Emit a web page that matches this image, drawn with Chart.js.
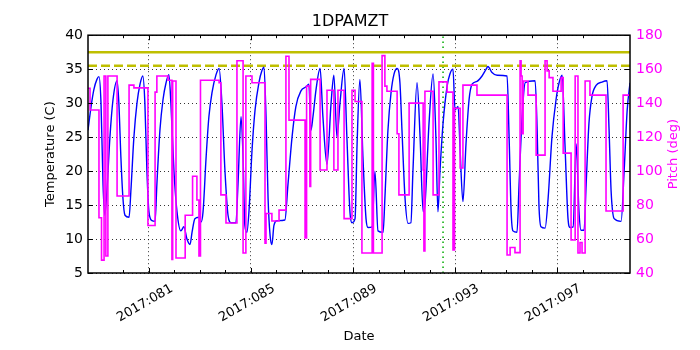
<!DOCTYPE html>
<html>
<head>
<meta charset="utf-8">
<script src="https://cdn.jsdelivr.net/npm/chart.js@4"></script>
<style>
  html, body { margin: 0; padding: 0; background: #fff; }
</style>
</head>
<body>
<canvas id="chart" width="700" height="350"></canvas>
<script>
// x axis: day of year 2017
const majorDays = [81, 85, 89, 93, 97];
const dayMin = 78.61;
const dayMax = 99.86;

// 1DPAMZT temperature (C)
const tempDays = [
  78.61, 78.73, 78.84, 78.96, 79.04, 79.12, 79.20, 79.27, 79.35, 79.47,
  79.59, 79.75, 79.82, 79.90, 79.98, 80.06, 80.22, 80.29, 80.41, 80.53,
  80.65, 80.76, 80.84, 80.92, 81.00, 81.12, 81.24, 81.31, 81.43, 81.55,
  81.67, 81.78, 81.86, 81.98, 82.10, 82.25, 82.37, 82.49, 82.61, 82.69,
  82.80, 82.96, 83.04, 83.12, 83.24, 83.35, 83.47, 83.63, 83.75, 83.86,
  83.98, 84.10, 84.22, 84.41, 84.49, 84.61, 84.69, 84.76, 84.84, 84.92,
  85.04, 85.16, 85.31, 85.43, 85.51, 85.59, 85.67, 85.75, 85.82, 85.90,
  86.02, 86.33, 86.45, 86.61, 86.76, 86.96, 87.16, 87.27, 87.35, 87.43,
  87.55, 87.71, 87.82, 87.98, 88.14, 88.25, 88.37, 88.49, 88.65, 88.76,
  88.88, 88.96, 89.08, 89.16, 89.27, 89.39, 89.51, 89.59, 89.75, 89.86,
  89.98, 90.18, 90.25, 90.37, 90.49, 90.61, 90.73, 90.84, 90.92, 91.04,
  91.16, 91.27, 91.35, 91.51, 91.63, 91.75, 91.82, 91.98, 92.14, 92.25,
  92.33, 92.41, 92.53, 92.69, 92.80, 92.92, 93.00, 93.12, 93.20, 93.31,
  93.43, 93.55, 93.67, 93.86, 94.06, 94.22, 94.29, 94.45, 94.65, 95.04,
  95.12, 95.20, 95.27, 95.43, 95.51, 95.63, 95.75, 96.14, 96.22, 96.29,
  96.37, 96.53, 96.65, 96.80, 96.96, 97.08, 97.20, 97.31, 97.43, 97.51,
  97.63, 97.75, 97.86, 97.94, 98.06, 98.14, 98.25, 98.37, 98.53, 98.76,
  98.96, 99.04, 99.12, 99.24, 99.51, 99.63, 99.75, 99.86
];
const tempValues = [
  26.0, 29.5, 32.0, 33.5, 33.9, 30.0, 18.0, 13.5, 17.0, 25.0,
  30.5, 33.3, 30.0, 22.0, 16.0, 13.5, 13.2, 17.0, 25.0, 30.0,
  32.8, 34.0, 30.0, 20.0, 14.0, 12.7, 12.6, 18.0, 26.0, 30.5,
  33.0, 34.2, 30.0, 20.0, 14.0, 11.2, 11.8, 10.0, 9.2, 11.0,
  13.0, 13.2, 12.5, 14.0, 22.0, 28.0, 31.5, 34.2, 35.1, 30.0,
  20.0, 13.5, 12.4, 12.4, 18.0, 28.0, 22.0, 12.0, 11.0, 14.0,
  23.0, 29.0, 33.0, 34.8, 35.3, 28.0, 16.0, 10.5, 9.2, 12.0,
  12.7, 12.8, 18.0, 25.0, 29.5, 31.8, 32.4, 32.8, 26.0, 28.0,
  32.0, 35.1, 28.0, 21.0, 30.0, 34.1, 25.0, 30.0, 35.1, 25.0,
  14.0, 12.4, 13.0, 24.0, 33.5, 22.0, 13.0, 11.7, 11.8, 20.0,
  11.2, 11.0, 16.0, 26.0, 31.5, 34.3, 35.1, 33.0, 26.0, 16.0,
  12.3, 12.4, 20.0, 33.0, 25.0, 14.0, 15.0, 27.0, 34.3, 25.0,
  14.0, 20.0, 27.0, 32.5, 34.3, 35.0, 29.0, 29.5, 23.0, 15.5,
  24.0, 30.5, 32.8, 33.2, 34.0, 35.0, 35.4, 34.5, 34.1, 34.0,
  25.0, 14.0, 11.2, 11.0, 18.0, 28.0, 33.0, 33.3, 26.0, 15.0,
  11.8, 11.6, 16.0, 25.0, 30.5, 33.0, 34.1, 24.0, 13.0, 11.7,
  11.8, 24.0, 14.0, 11.3, 11.3, 18.0, 27.0, 31.0, 32.6, 33.1,
  33.3, 26.0, 17.0, 13.0, 12.6, 20.0, 29.0, 33.0
];

// pitch (deg), each value held until the next day
const pitchDays = [
  78.61, 78.69, 79.04, 79.14, 79.24, 79.31, 79.39, 79.75, 80.22, 80.41,
  80.96, 81.24, 81.31, 81.75, 81.90, 81.93, 82.06, 82.42, 82.71, 82.88,
  82.96, 83.02, 83.75, 83.82, 84.02, 84.45, 84.69, 84.80, 85.04, 85.55,
  85.59, 85.82, 86.10, 86.37, 86.49, 87.12, 87.18, 87.31, 87.34, 87.71,
  87.98, 88.25, 88.41, 88.65, 88.96, 89.08, 89.35, 89.75, 89.80, 90.14,
  90.25, 90.33, 90.73, 90.80, 91.20, 91.75, 91.78, 91.82, 92.14, 92.37,
  92.69, 92.92, 92.98, 93.20, 93.31, 93.86, 95.04, 95.16, 95.35, 95.55,
  95.59, 95.63, 95.67, 95.86, 96.18, 96.53, 96.61, 96.69, 96.84, 97.16,
  97.24, 97.55, 97.71, 97.82, 97.90, 97.98, 98.10, 98.29, 98.92, 99.59,
  99.86
];
const pitchValues = [
  148.8, 136.0, 72.5, 47.6, 156.0, 50.0, 156.0, 85.3, 150.6, 149.0,
  68.0, 146.5, 156.0, 153.5, 48.0, 153.0, 48.8, 74.0, 97.0, 83.0,
  50.0, 153.5, 152.0, 86.0, 69.4, 165.0, 51.8, 156.0, 152.0, 57.6,
  75.0, 70.6, 77.0, 167.6, 130.0, 60.6, 150.0, 91.0, 154.0, 100.6,
  147.6, 100.6, 147.6, 72.0, 147.6, 141.0, 51.8, 163.5, 51.8, 168.0,
  150.0, 147.0, 122.0, 86.0, 140.0, 100.6, 53.0, 147.0, 86.0, 152.5,
  146.5, 53.5, 137.0, 101.8, 150.6, 144.7, 50.6, 55.0, 52.0, 165.0,
  156.0, 122.0, 153.0, 144.7, 109.4, 165.0, 159.0, 155.0, 147.0, 155.0,
  110.6, 59.4, 156.0, 51.8, 58.0, 51.8, 153.0, 144.7, 76.5, 144.7,
  144.7
];

// limits and marker
const planningLimit = 37.5;
const cautionLimit = 35.5;
const markerDay = 92.53;

const zip = (xs, ys) => xs.map((x, i) => ({ x: x, y: ys[i] }));

// inward tick marks, black frame, and the right axis title read bottom-up
const frameTicks = {
  id: 'frameTicks',
  afterDatasetsDraw(chart) {
    const { ctx, chartArea: a, scales } = chart;
    ctx.save();
    ctx.strokeStyle = '#000';
    ctx.lineWidth = 1;
    ctx.beginPath();
    scales.x.ticks.forEach(t => {
      if (!Number.isInteger(t.value)) return;
      const px = Math.round(scales.x.getPixelForValue(t.value)) + 0.5;
      const len = majorDays.includes(t.value) ? 5 : 3;
      ctx.moveTo(px, a.bottom); ctx.lineTo(px, a.bottom - len);
      ctx.moveTo(px, a.top); ctx.lineTo(px, a.top + len);
    });
    scales.y.ticks.forEach(t => {
      const py = Math.round(scales.y.getPixelForValue(t.value)) + 0.5;
      ctx.moveTo(a.left, py); ctx.lineTo(a.left + 5, py);
    });
    scales.y2.ticks.forEach(t => {
      const py = Math.round(scales.y2.getPixelForValue(t.value)) + 0.5;
      ctx.moveTo(a.right, py); ctx.lineTo(a.right - 5, py);
    });
    ctx.stroke();
    ctx.lineWidth = 1.5;
    ctx.strokeRect(a.left, a.top, a.right - a.left, a.bottom - a.top);

    ctx.translate(674, (a.top + a.bottom) / 2);
    ctx.rotate(-Math.PI / 2);
    ctx.fillStyle = '#ff00ff';
    ctx.font = "13px 'DejaVu Sans', sans-serif";
    ctx.textAlign = 'center';
    ctx.textBaseline = 'middle';
    ctx.fillText('Pitch (deg)', 0, 0);
    ctx.restore();
  }
};

Chart.defaults.font.family = "'DejaVu Sans', sans-serif";
Chart.defaults.color = '#000';

new Chart(document.getElementById('chart'), {
  type: 'line',
  data: {
    datasets: [
      {
        label: 'Pitch',
        data: zip(pitchDays, pitchValues),
        yAxisID: 'y2',
        stepped: true,
        borderColor: '#ff00ff',
        borderWidth: 1.6,
        pointRadius: 0,
        order: 0
      },
      {
        label: '1DPAMZT',
        data: zip(tempDays, tempValues),
        yAxisID: 'y',
        cubicInterpolationMode: 'monotone',
        borderColor: '#0000ff',
        borderWidth: 1.4,
        pointRadius: 0,
        order: 1
      },
      {
        label: 'planning limit',
        data: [{ x: dayMin, y: planningLimit }, { x: dayMax, y: planningLimit }],
        yAxisID: 'y',
        borderColor: '#bfbf00',
        borderWidth: 2.5,
        pointRadius: 0,
        order: 2
      },
      {
        label: 'caution limit',
        data: [{ x: dayMin, y: cautionLimit }, { x: dayMax, y: cautionLimit }],
        yAxisID: 'y',
        borderColor: '#bfbf00',
        borderWidth: 2.5,
        borderDash: [9, 4],
        pointRadius: 0,
        order: 2
      },
      {
        label: 'now',
        data: [{ x: markerDay, y: 5 }, { x: markerDay, y: 40 }],
        yAxisID: 'y',
        borderColor: '#00aa00',
        borderWidth: 1.5,
        borderDash: [1.5, 3.5],
        pointRadius: 0,
        order: 3
      }
    ]
  },
  options: {
    responsive: false,
    animation: false,
    layout: { padding: 0 },
    plugins: {
      legend: { display: false },
      tooltip: { enabled: false },
      title: {
        display: true,
        text: '1DPAMZT',
        font: { size: 16, weight: 'normal' },
        padding: { top: 12, bottom: 4 }
      }
    },
    scales: {
      x: {
        type: 'linear',
        min: dayMin,
        max: dayMax,
        afterFit: s => { s.height = 77; },
        border: { display: false, dash: [1, 3] },
        grid: {
          drawTicks: false,
          lineWidth: 0.8,
          color: c => (c.tick && majorDays.includes(c.tick.value)) ? '#000' : 'rgba(0,0,0,0)'
        },
        ticks: {
          stepSize: 1,
          autoSkip: false,
          minRotation: 30,
          maxRotation: 30,
          labelOffset: 23,
          padding: 8,
          font: { size: 13 },
          callback: v => majorDays.includes(v) ? '2017:0' + v : ''
        },
        title: {
          display: true,
          text: 'Date',
          font: { size: 13 },
          padding: { top: 0, bottom: 6 }
        }
      },
      y: {
        position: 'left',
        min: 5,
        max: 40,
        afterFit: s => { s.width = 88; },
        border: { display: false, dash: [1, 3] },
        grid: { drawTicks: false, lineWidth: 0.8, color: '#000' },
        ticks: { stepSize: 5, padding: 5, font: { size: 14 } },
        title: {
          display: true,
          text: 'Temperature (C)',
          font: { size: 13 },
          padding: { top: 43, bottom: 0 }
        }
      },
      y2: {
        position: 'right',
        min: 40,
        max: 180,
        afterFit: s => { s.width = 70; },
        border: { display: false },
        grid: { display: false, drawTicks: false },
        ticks: { stepSize: 20, padding: 6, color: '#ff00ff', font: { size: 14 } },
        title: { display: false }
      }
    }
  },
  plugins: [frameTicks]
});
</script>
</body>
</html>
